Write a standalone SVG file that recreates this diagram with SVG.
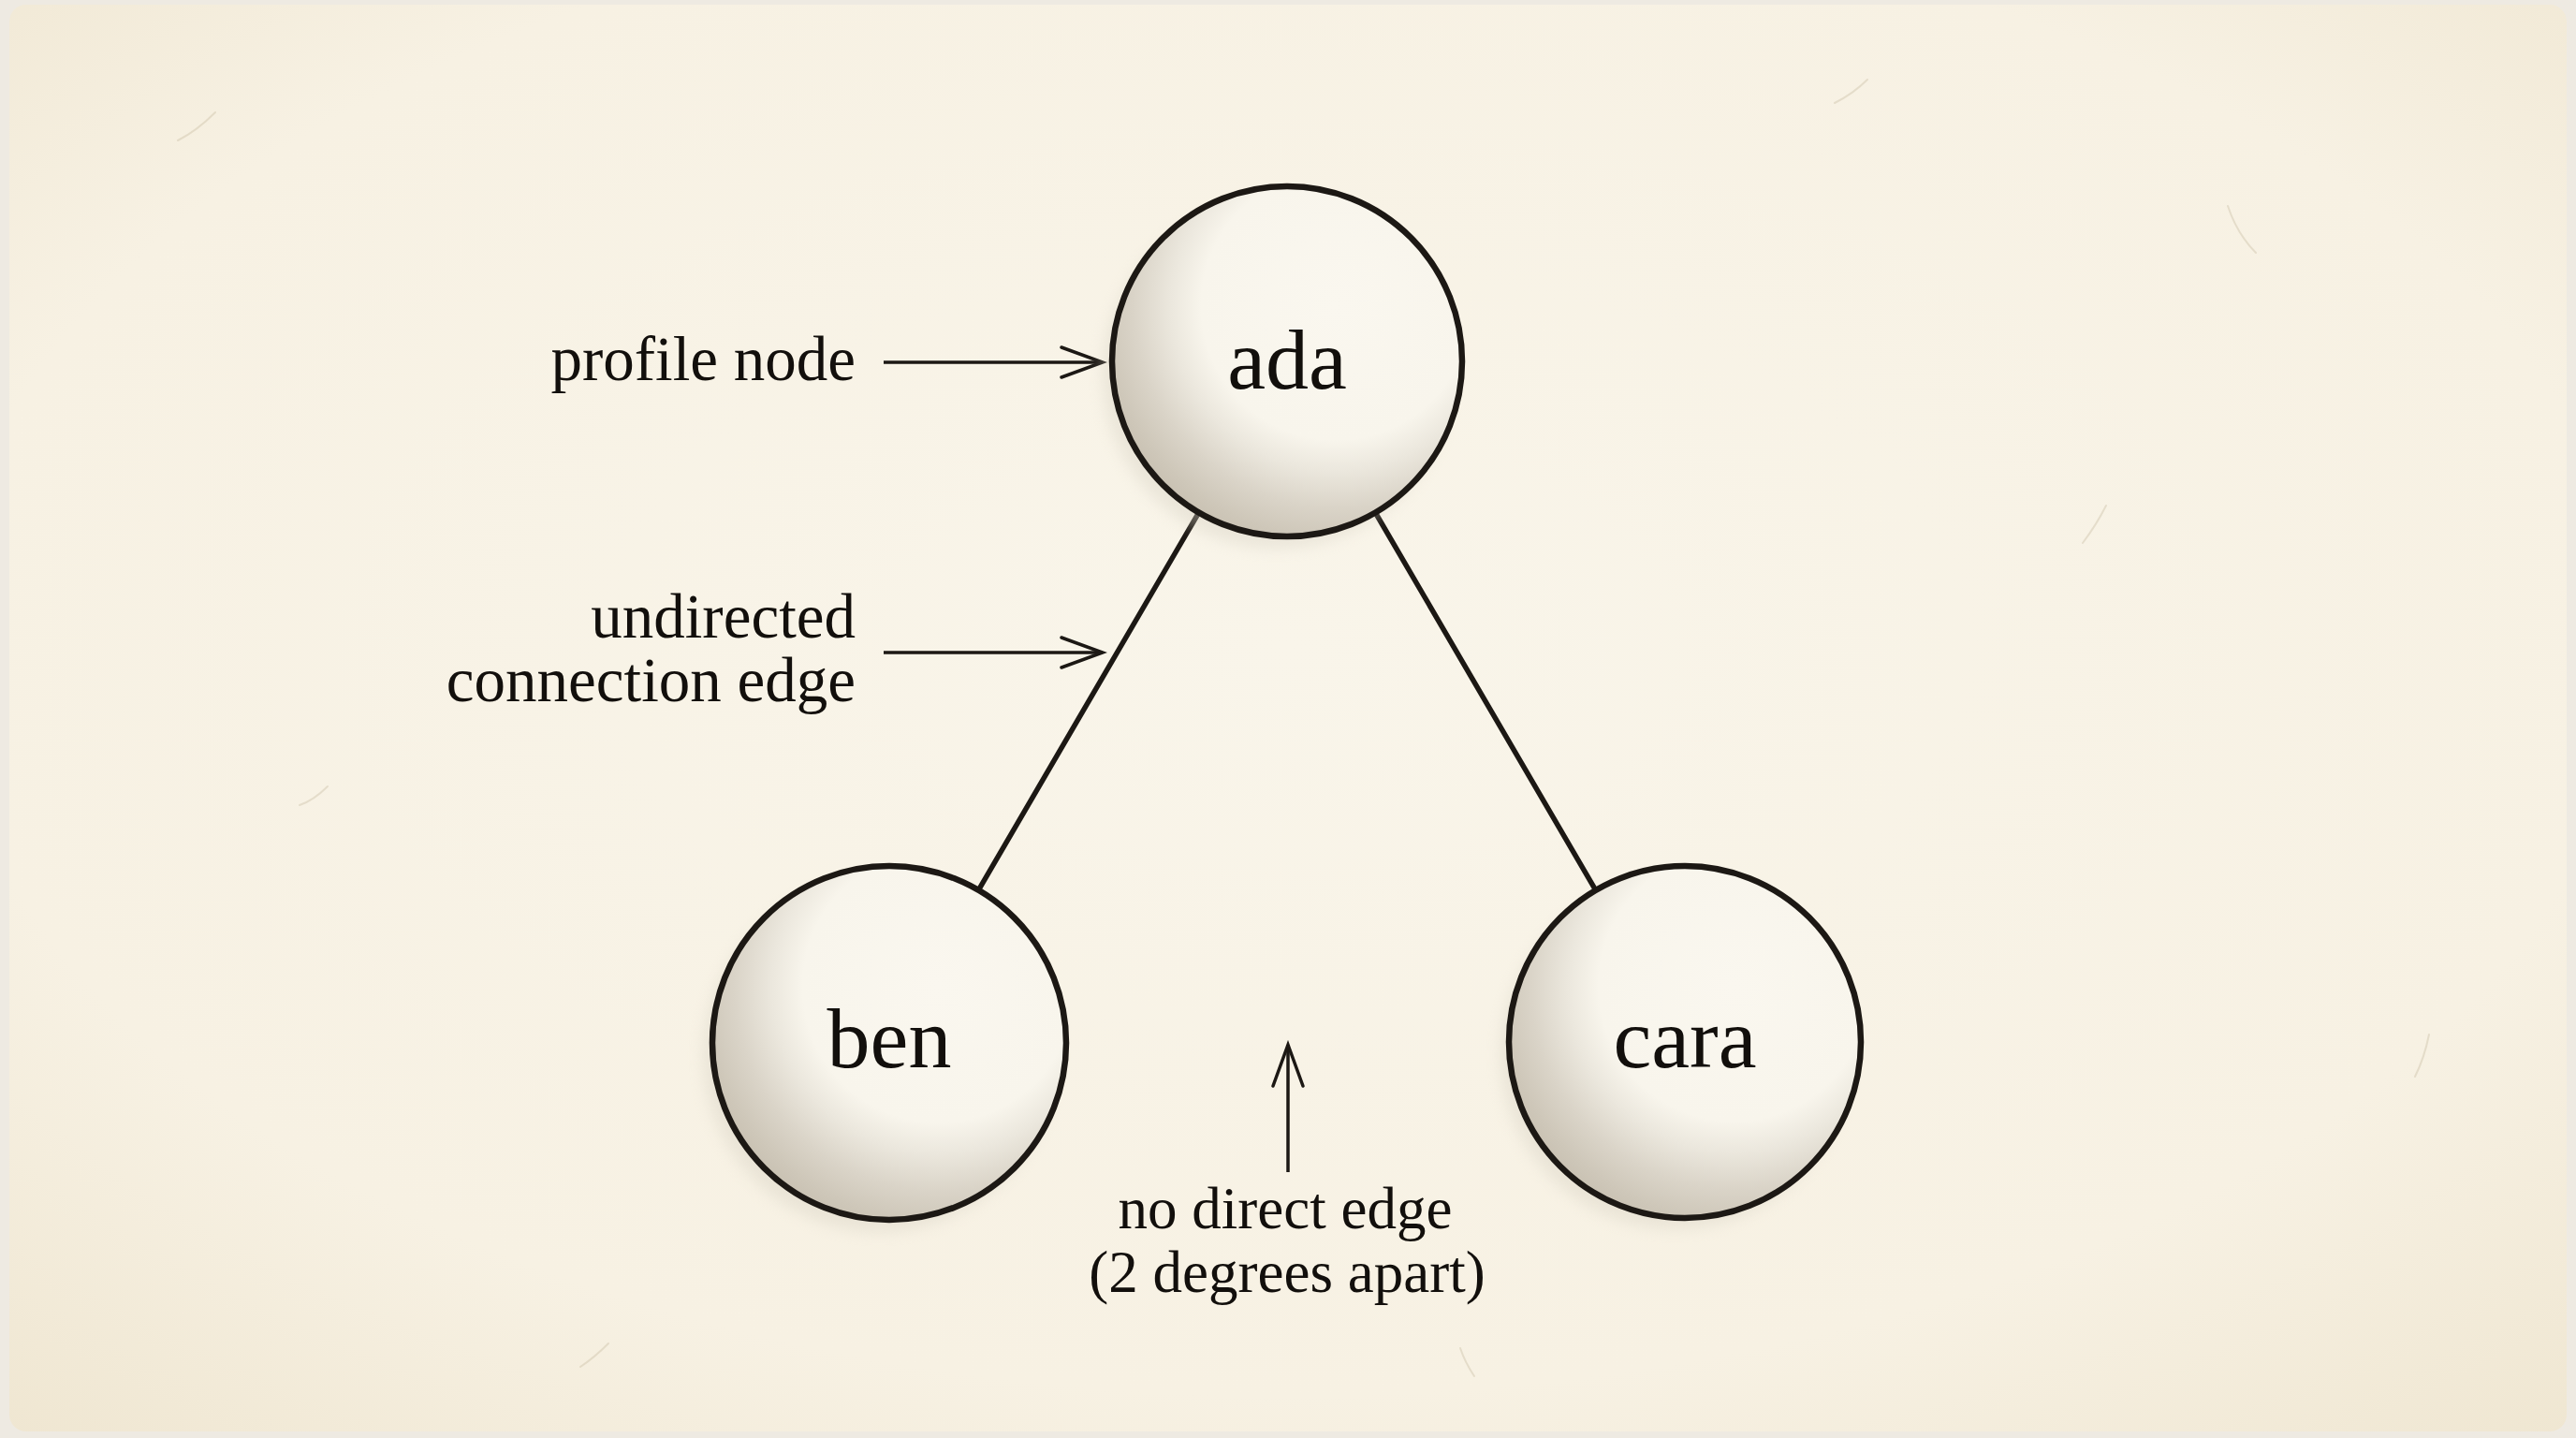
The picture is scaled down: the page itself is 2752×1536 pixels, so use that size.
<svg xmlns="http://www.w3.org/2000/svg" width="2752" height="1536" viewBox="0 0 2752 1536">
  <style>
    .lbl { font-family: "Liberation Serif", "DejaVu Serif", serif; fill: #120f0c; }
    .node-name { font-size: 92px; text-anchor: middle; }
    .note { font-size: 67px; text-anchor: end; }
    .note-c { font-size: 63px; text-anchor: middle; }
    .ring { stroke: #1c1814; stroke-width: 6.5; fill: url(#wash); }
    .edge { stroke: #1c1814; stroke-width: 5.5; fill: none; stroke-linecap: round; }
    .ann { stroke: #1c1814; stroke-width: 3.5; fill: none; marker-end: url(#chev); }
    .fiber { stroke: #b9ab8f; stroke-width: 2; fill: none; opacity: 0.3; stroke-linecap: round; }
  </style>
  <defs>
    <radialGradient id="paper" cx="0.5" cy="0.45" r="0.75">
      <stop offset="0" stop-color="#F9F5EA"/>
      <stop offset="0.7" stop-color="#F7F1E3"/>
      <stop offset="1" stop-color="#EFE6D1"/>
    </radialGradient>
    <radialGradient id="wash" cx="0.64" cy="0.34" r="0.74">
      <stop offset="0" stop-color="#FAF7EF"/>
      <stop offset="0.52" stop-color="#F8F5EC"/>
      <stop offset="0.64" stop-color="#EBE7DD"/>
      <stop offset="0.78" stop-color="#DAD4C8"/>
      <stop offset="0.9" stop-color="#CEC7B9"/>
      <stop offset="1" stop-color="#C6BEAF"/>
    </radialGradient>
    <filter id="soft" x="-20%" y="-20%" width="140%" height="140%">
      <feGaussianBlur stdDeviation="8"/>
    </filter>
    <marker id="chev" markerUnits="userSpaceOnUse" markerWidth="52" markerHeight="40" viewBox="0 0 52 40" refX="47" refY="20" orient="auto">
      <path d="M3 4 L47 20 L3 36" fill="none" stroke="#1c1814" stroke-width="3.5" stroke-linecap="round" stroke-linejoin="miter"/>
    </marker>
  </defs>

  <!-- paper -->
  <rect x="0" y="0" width="2752" height="1536" fill="#EEEAE2"/>
  <rect x="10" y="5" width="2732" height="1524" rx="18" fill="url(#paper)"/>
  <g id="paper-fibers">
    <path class="fiber" d="M190 150 q20 -10 40 -30"/>
    <path class="fiber" d="M2380 220 q10 30 30 50"/>
    <path class="fiber" d="M2250 540 q-10 20 -25 40"/>
    <path class="fiber" d="M320 860 q15 -5 30 -20"/>
    <path class="fiber" d="M2580 1150 q10 -20 15 -45"/>
    <path class="fiber" d="M1560 1440 q5 15 15 30"/>
    <path class="fiber" d="M620 1460 q15 -10 30 -25"/>
    <path class="fiber" d="M1960 110 q20 -10 35 -25"/>
  </g>

  <!-- connectors -->
  <g id="connectors">
    <line class="edge" x1="1280.7" y1="547.5" x2="1045.3" y2="950.8"/>
    <line class="edge" x1="1469.3" y1="547.5" x2="1704.7" y2="950.8"/>
    <line class="ann" x1="944" y1="387" x2="1178" y2="387"/>
    <line class="ann" x1="944" y1="697" x2="1178" y2="697"/>
    <line class="ann" x1="1376" y1="1252" x2="1376" y2="1116"/>
  </g>

  <!-- nodes -->
  <g id="node-ada">
    <circle cx="1364" cy="400" r="186" fill="#D6D0C2" opacity="0.4" filter="url(#soft)"/>
    <circle class="ring" cx="1375" cy="386" r="187"/>
    <text class="lbl node-name" x="1375" y="415">ada</text>
  </g>
  <g id="node-ben">
    <circle cx="939" cy="1128" r="188" fill="#D6D0C2" opacity="0.4" filter="url(#soft)"/>
    <circle class="ring" cx="950" cy="1114" r="189"/>
    <text class="lbl node-name" x="950" y="1140">ben</text>
  </g>
  <g id="node-cara">
    <circle cx="1789" cy="1127" r="186" fill="#D6D0C2" opacity="0.4" filter="url(#soft)"/>
    <circle class="ring" cx="1800" cy="1113" r="188"/>
    <text class="lbl node-name" x="1800" y="1140">cara</text>
  </g>

  <!-- annotations -->
  <g id="label-profile-node">
    <text class="lbl note" x="914" y="406">profile node</text>
  </g>
  <g id="label-edge">
    <text class="lbl note" x="914" y="681">undirected</text>
    <text class="lbl note" x="914" y="749">connection edge</text>
  </g>
  <g id="label-no-edge">
    <text class="lbl note-c" x="1373" y="1312">no direct edge</text>
    <text class="lbl note-c" x="1375" y="1380">(2 degrees apart)</text>
  </g>
</svg>
